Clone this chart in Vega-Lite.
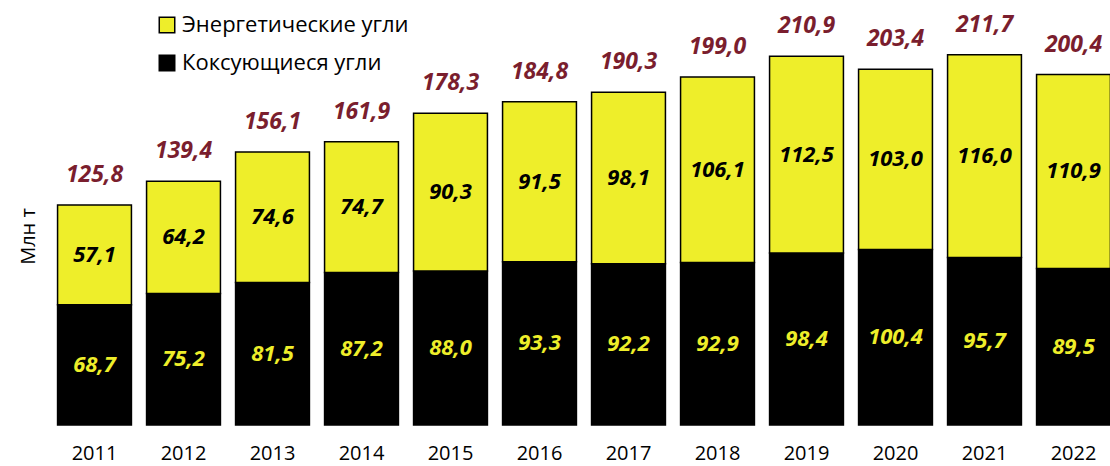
{
  "$schema": "https://vega.github.io/schema/vega-lite/v6.json",
  "width": 1068,
  "height": 425,
  "autosize": {"type": "none"},
  "padding": {"left": 50, "top": 0, "right": 0, "bottom": 41},
  "config": {
    "view": {"stroke": null},
    "font": "Open Sans",
    "locale": {"number": {"decimal": ",", "thousands": " ", "grouping": [3], "currency": ["", ""]}}
  },
  "data": {
    "values": [
      {"year": "2011", "type": "Коксующиеся угли", "ord": 1, "value": 68.7},
      {"year": "2011", "type": "Энергетические угли", "ord": 2, "value": 57.1},
      {"year": "2012", "type": "Коксующиеся угли", "ord": 1, "value": 75.2},
      {"year": "2012", "type": "Энергетические угли", "ord": 2, "value": 64.2},
      {"year": "2013", "type": "Коксующиеся угли", "ord": 1, "value": 81.5},
      {"year": "2013", "type": "Энергетические угли", "ord": 2, "value": 74.6},
      {"year": "2014", "type": "Коксующиеся угли", "ord": 1, "value": 87.2},
      {"year": "2014", "type": "Энергетические угли", "ord": 2, "value": 74.7},
      {"year": "2015", "type": "Коксующиеся угли", "ord": 1, "value": 88.0},
      {"year": "2015", "type": "Энергетические угли", "ord": 2, "value": 90.3},
      {"year": "2016", "type": "Коксующиеся угли", "ord": 1, "value": 93.3},
      {"year": "2016", "type": "Энергетические угли", "ord": 2, "value": 91.5},
      {"year": "2017", "type": "Коксующиеся угли", "ord": 1, "value": 92.2},
      {"year": "2017", "type": "Энергетические угли", "ord": 2, "value": 98.1},
      {"year": "2018", "type": "Коксующиеся угли", "ord": 1, "value": 92.9},
      {"year": "2018", "type": "Энергетические угли", "ord": 2, "value": 106.1},
      {"year": "2019", "type": "Коксующиеся угли", "ord": 1, "value": 98.4},
      {"year": "2019", "type": "Энергетические угли", "ord": 2, "value": 112.5},
      {"year": "2020", "type": "Коксующиеся угли", "ord": 1, "value": 100.4},
      {"year": "2020", "type": "Энергетические угли", "ord": 2, "value": 103.0},
      {"year": "2021", "type": "Коксующиеся угли", "ord": 1, "value": 95.7},
      {"year": "2021", "type": "Энергетические угли", "ord": 2, "value": 116.0},
      {"year": "2022", "type": "Коксующиеся угли", "ord": 1, "value": 89.5},
      {"year": "2022", "type": "Энергетические угли", "ord": 2, "value": 110.9}
    ]
  },
  "layer": [
    {
      "mark": {"type": "bar", "stroke": "black", "strokeWidth": 1.5},
      "encoding": {
        "x": {
          "field": "year", "type": "ordinal",
          "scale": {"paddingInner": 0.17, "paddingOuter": 0.085},
          "axis": {"title": null, "domain": false, "ticks": false, "labelAngle": 0, "labelFontSize": 20, "labelPadding": 18, "labelColor": "black"}
        },
        "y": {
          "field": "value", "type": "quantitative", "stack": "zero",
          "scale": {"domain": [0, 243], "nice": false},
          "axis": {"title": "Млн т", "domain": false, "ticks": false, "labels": false, "grid": false,
                   "titleFontSize": 20, "titleFontWeight": "normal", "titleColor": "black",
                   "titleAngle": -90, "titleX": -22, "titleY": 236, "titleAlign": "center", "titleBaseline": "middle"}
        },
        "color": {
          "field": "type", "type": "nominal",
          "scale": {"domain": ["Энергетические угли", "Коксующиеся угли"], "range": ["#EEEE2A", "#000000"]},
          "legend": {
            "title": null, "orient": "none", "legendX": 106, "legendY": 14, "padding": 0,
            "symbolType": "square", "symbolSize": 240, "symbolStrokeColor": "black", "symbolStrokeWidth": 1.5,
            "labelFontSize": 22, "labelColor": "black", "labelOffset": 4, "rowPadding": 16, "labelLimit": 400
          }
        },
        "order": {"field": "ord", "type": "quantitative"}
      }
    },
    {
      "mark": {"type": "text", "fontWeight": "bold", "fontStyle": "italic", "fontSize": 22, "baseline": "middle"},
      "encoding": {
        "x": {"field": "year", "type": "ordinal"},
        "y": {"field": "value", "type": "quantitative", "stack": "zero", "bandPosition": 0.5},
        "text": {"field": "value", "type": "quantitative", "format": ".1f"},
        "color": {"condition": {"test": "datum.type === 'Коксующиеся угли'", "value": "#EEEE2A"}, "value": "black"},
        "order": {"field": "ord", "type": "quantitative"}
      }
    },
    {
      "transform": [{"aggregate": [{"op": "sum", "field": "value", "as": "total"}], "groupby": ["year"]}],
      "mark": {"type": "text", "fontWeight": "bold", "fontStyle": "italic", "fontSize": 23, "baseline": "alphabetic", "dy": -23, "color": "#7A1E2E"},
      "encoding": {
        "x": {"field": "year", "type": "ordinal"},
        "y": {"field": "total", "type": "quantitative"},
        "text": {"field": "total", "type": "quantitative", "format": ".1f"}
      }
    }
  ]
}
